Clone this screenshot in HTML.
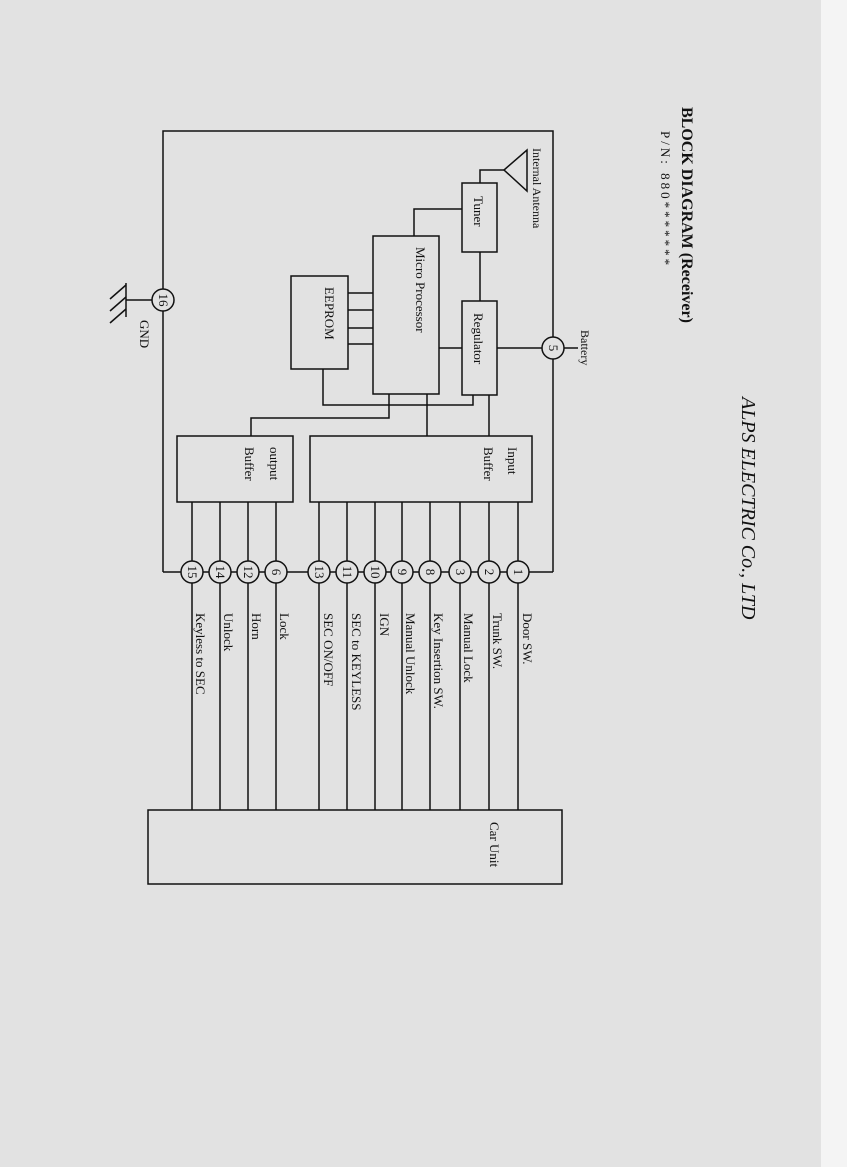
<!DOCTYPE html>
<html><head><meta charset="utf-8"><style>
html,body{margin:0;padding:0;background:#e2e2e2;}
svg{display:block}
text{font-family:"Liberation Serif",serif;fill:#111}
</style></head><body>
<svg width="847" height="1167" viewBox="0 0 847 1167" xmlns="http://www.w3.org/2000/svg">
<rect x="0" y="0" width="847" height="1167" fill="#e2e2e2"/>
<rect x="821" y="0" width="26" height="1167" fill="#f4f4f4"/>
<g stroke="#111" stroke-width="1.5" fill="none">
<polyline points="163,289 163,131 553,131 553,337"/>
<line x1="553" y1="359" x2="553" y2="572"/>
<line x1="163" y1="311" x2="163" y2="572"/>
<line x1="163" y1="572" x2="553" y2="572"/>
<polygon points="504,170 527,150 527,191"/>
<polyline points="504,170 480,170 480,183"/>
<rect x="462" y="183" width="35" height="69"/>
<rect x="462" y="301" width="35" height="94"/>
<line x1="480" y1="252" x2="480" y2="301"/>
<rect x="373" y="236" width="66" height="158"/>
<polyline points="462,209 414,209 414,236"/>
<line x1="439" y1="348" x2="462" y2="348"/>
<line x1="497" y1="348" x2="578" y2="348"/>
<rect x="291" y="276" width="57" height="93"/>
<line x1="348" y1="293" x2="373" y2="293"/>
<line x1="348" y1="310" x2="373" y2="310"/>
<line x1="348" y1="328" x2="373" y2="328"/>
<line x1="348" y1="344" x2="373" y2="344"/>
<polyline points="323,369 323,405 473,405 473,395"/>
<polyline points="389,394 389,418 251,418 251,436"/>
<line x1="427" y1="394" x2="427" y2="436"/>
<line x1="489" y1="395" x2="489" y2="436"/>
<rect x="310" y="436" width="222" height="66"/>
<rect x="177" y="436" width="116" height="66"/>
<rect x="148" y="810" width="414" height="74"/>
<line x1="152" y1="300" x2="126" y2="300"/>
<line x1="126" y1="283" x2="126" y2="317"/>
<line x1="126" y1="285" x2="110" y2="299"/>
<line x1="126" y1="297" x2="110" y2="311"/>
<line x1="126" y1="309" x2="110" y2="323"/>
<line x1="192" y1="502" x2="192" y2="810"/>
<line x1="220" y1="502" x2="220" y2="810"/>
<line x1="248" y1="502" x2="248" y2="810"/>
<line x1="276" y1="502" x2="276" y2="810"/>
<line x1="319" y1="502" x2="319" y2="810"/>
<line x1="347" y1="502" x2="347" y2="810"/>
<line x1="375" y1="502" x2="375" y2="810"/>
<line x1="402" y1="502" x2="402" y2="810"/>
<line x1="430" y1="502" x2="430" y2="810"/>
<line x1="460" y1="502" x2="460" y2="810"/>
<line x1="489" y1="502" x2="489" y2="810"/>
<line x1="518" y1="502" x2="518" y2="810"/>
</g>
<g stroke="#111" stroke-width="1.5" fill="#e2e2e2">
<circle cx="163" cy="300" r="11"/>
<circle cx="553" cy="348" r="11"/>
<circle cx="192" cy="572" r="11"/><circle cx="220" cy="572" r="11"/><circle cx="248" cy="572" r="11"/><circle cx="276" cy="572" r="11"/>
<circle cx="319" cy="572" r="11"/><circle cx="347" cy="572" r="11"/><circle cx="375" cy="572" r="11"/><circle cx="402" cy="572" r="11"/>
<circle cx="430" cy="572" r="11"/><circle cx="460" cy="572" r="11"/><circle cx="489" cy="572" r="11"/><circle cx="518" cy="572" r="11"/>
</g>
<g font-size="13" text-anchor="middle">
<text transform="translate(159,300) rotate(90)">16</text>
<text transform="translate(549,348) rotate(90)">5</text>
<text transform="translate(188,572) rotate(90)">15</text>
<text transform="translate(216,572) rotate(90)">14</text>
<text transform="translate(244,572) rotate(90)">12</text>
<text transform="translate(272,572) rotate(90)">6</text>
<text transform="translate(315,572) rotate(90)">13</text>
<text transform="translate(343,572) rotate(90)">11</text>
<text transform="translate(371,572) rotate(90)">10</text>
<text transform="translate(398,572) rotate(90)">9</text>
<text transform="translate(426,572) rotate(90)">8</text>
<text transform="translate(456,572) rotate(90)">3</text>
<text transform="translate(485,572) rotate(90)">2</text>
<text transform="translate(514,572) rotate(90)">1</text>
</g>
<g font-size="13">
<text transform="translate(523,613) rotate(90)">Door SW.</text>
<text transform="translate(493,613) rotate(90)">Trunk SW.</text>
<text transform="translate(464,613) rotate(90)">Manual Lock</text>
<text transform="translate(434,613) rotate(90)">Key Insertion SW.</text>
<text transform="translate(406,613) rotate(90)">Manual Unlock</text>
<text transform="translate(380,613) rotate(90)">IGN</text>
<text transform="translate(352,613) rotate(90)">SEC to KEYLESS</text>
<text transform="translate(324,613) rotate(90)">SEC ON/OFF</text>
<text transform="translate(280,613) rotate(90)">Lock</text>
<text transform="translate(252,613) rotate(90)">Horn</text>
<text transform="translate(224,613) rotate(90)">Unlock</text>
<text transform="translate(196,613) rotate(90)">Keyless to SEC</text>
<text transform="translate(474,196) rotate(90)">Tuner</text>
<text transform="translate(474,313) rotate(90)">Regulator</text>
<text transform="translate(416,247) rotate(90)">Micro Processor</text>
<text transform="translate(325,287) rotate(90)">EEPROM</text>
<text transform="translate(508,447) rotate(90)">Input</text>
<text transform="translate(484,447) rotate(90)">Buffer</text>
<text transform="translate(270,447) rotate(90)">output</text>
<text transform="translate(245,447) rotate(90)">Buffer</text>
<text transform="translate(490,822) rotate(90)">Car Unit</text>
<text transform="translate(140,320) rotate(90)">GND</text>
</g>
<g font-size="12">
<text transform="translate(533,148) rotate(90)">Internal Antenna</text>
<text transform="translate(581,330) rotate(90)">Battery</text>
</g>
<text transform="translate(682,107) rotate(90)" font-size="16" font-weight="bold">BLOCK DIAGRAM (Receiver)</text>
<text transform="translate(661,131) rotate(90)" font-size="13" letter-spacing="3">P/N: 880*******</text>
<text transform="translate(742,397) rotate(90)" font-size="20" font-style="italic">ALPS ELECTRIC Co., LTD</text>
</svg>
</body></html>
